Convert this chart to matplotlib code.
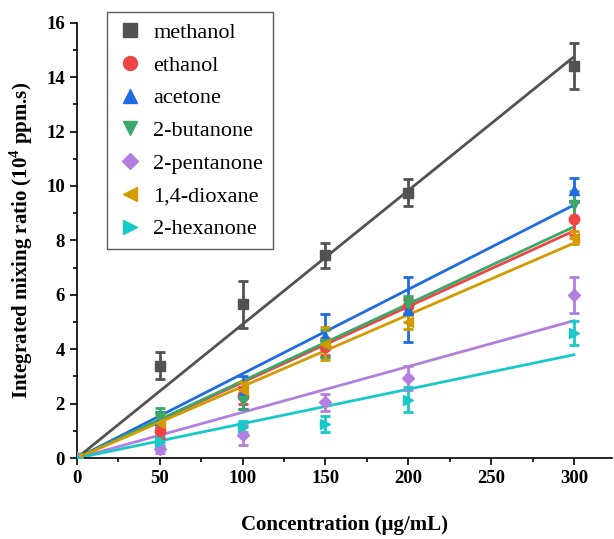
import numpy as np
import matplotlib
matplotlib.use("Agg")
import matplotlib.pyplot as plt
from matplotlib.ticker import MultipleLocator
from matplotlib.lines import Line2D

plt.rcParams['font.family'] = ['Liberation Serif', 'DejaVu Serif']
plt.rcParams['mathtext.fontset'] = 'custom'
plt.rcParams['mathtext.rm'] = 'Liberation Serif'
plt.rcParams['mathtext.bf'] = 'Liberation Serif:bold'

conc = [0, 50, 100, 150, 200, 300]
names = ['methanol', 'ethanol', 'acetone', '2-butanone', '2-pentanone', '1,4-dioxane', '2-hexanone']
colors = ['#525252', '#f04444', '#1f6be0', '#3aa868', '#b27ee0', '#d39b00', '#17c9c9']
markers = ['s', 'o', '^', 'v', 'D', '<', '>']

methanol = [0, 3.4, 5.65, 7.45, 9.75, 14.4]
ethanol = [0, 1.0, 2.3, 4.1, 5.6, 8.8]
acetone = [0, 1.4, 2.4, 4.5, 5.45, 9.85]
butanone = [0, 1.5, 2.1, 4.2, 5.65, 9.3]
pentanone = [0, 0.35, 0.85, 2.05, 2.95, 6.0]
dioxane = [0, 1.3, 2.5, 4.2, 5.0, 8.1]
hexanone = [0, 0.6, 1.15, 1.25, 2.15, 4.6]

methanol_err = [0, 0.5, 0.87, 0.45, 0.5, 0.85]
ethanol_err = [0, 0.25, 0.3, 0.3, 0.3, 0.6]
acetone_err = [0, 0.3, 0.6, 0.8, 1.2, 0.45]
butanone_err = [0, 0.35, 0.3, 0.5, 0.3, 0.5]
pentanone_err = [0, 0.15, 0.35, 0.3, 0.45, 0.65]
dioxane_err = [0, 0.3, 0.3, 0.6, 0.25, 0.25]
hexanone_err = [0, 0.2, 0.2, 0.3, 0.45, 0.45]

# fitted value at 300 ug/mL for each linear fit
fit_end = [14.75, 8.35, 9.3, 8.5, 5.05, 7.9, 3.8]

series = [methanol, ethanol, acetone, butanone, pentanone, dioxane, hexanone]
errs = [methanol_err, ethanol_err, acetone_err, butanone_err, pentanone_err, dioxane_err, hexanone_err]

fig = plt.figure(figsize=(6.14, 5.39), dpi=100)
ax = fig.add_axes([0.125, 0.15, 0.872, 0.808])

xfit = np.array([0, 300])
for i in range(len(names)):
    ax.plot(xfit, xfit * fit_end[i] / 300, color=colors[i], lw=2, zorder=2)
for i in range(len(names)):
    ax.errorbar(conc, series[i], yerr=errs[i], fmt=markers[i], color=colors[i],
                ms=7.5 if markers[i] != 'D' else 6.5, elinewidth=2, capsize=3.5,
                capthick=2, zorder=3)

ax.set_xlim(0, 323)
ax.set_ylim(0, 16)
ax.xaxis.set_major_locator(MultipleLocator(50))
ax.xaxis.set_minor_locator(MultipleLocator(25))
ax.yaxis.set_major_locator(MultipleLocator(2))
ax.yaxis.set_minor_locator(MultipleLocator(1))
ax.spines['top'].set_visible(False)
ax.spines['right'].set_visible(False)
for s in ['left', 'bottom']:
    ax.spines[s].set_linewidth(1.2)
ax.tick_params(which='major', direction='out', length=5, width=1.2, labelsize=13.5)
ax.tick_params(which='minor', direction='out', length=3, width=1.2)
for lbl in ax.get_xticklabels() + ax.get_yticklabels():
    lbl.set_fontweight('bold')

ax.set_xlabel('Concentration (μg/mL)', fontsize=15, fontweight='bold', labelpad=20)
ax.set_ylabel('Integrated mixing ratio (10$^{\\mathbf{4}}$ ppm.s)', fontsize=15,
              fontweight='bold', labelpad=8)

handles = [Line2D([], [], ls='none', marker=markers[i], color=colors[i],
                  ms=10 if markers[i] != 'D' else 8.5)
           for i in range(len(names))]
leg = ax.legend(handles, names, loc='upper left', bbox_to_anchor=(0.056, 1.024), fontsize=16,
                frameon=True, fancybox=False, edgecolor='#333333', handletextpad=0.45,
                labelspacing=0.55, borderpad=0.45, handlelength=1.2, borderaxespad=0)
leg.get_frame().set_linewidth(1.0)

fig.savefig('out.png', dpi=100)
